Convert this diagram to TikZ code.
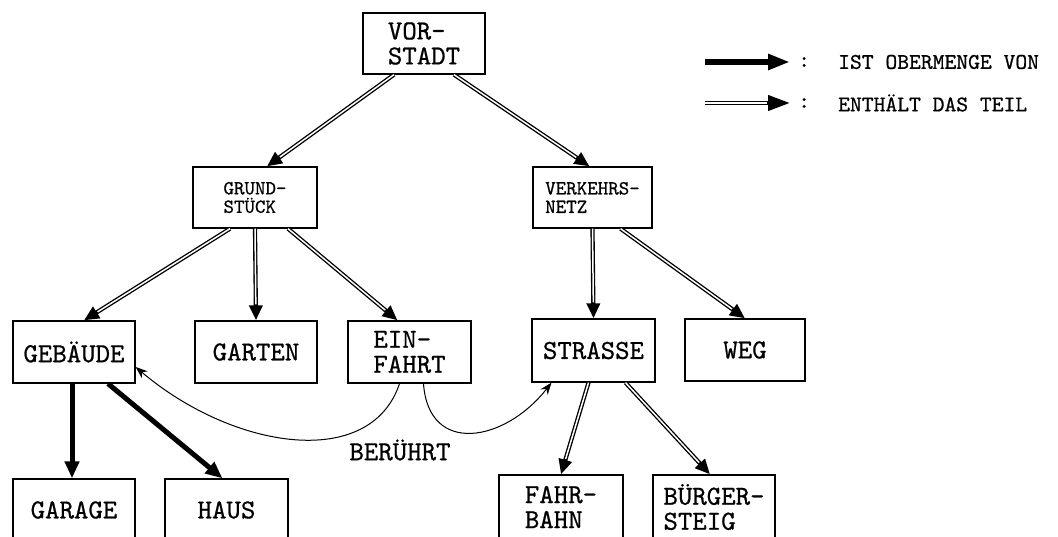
\documentclass[tikz,border=0pt]{standalone}
\usepackage{fontspec}
\setmonofont{lmmono10-regular.otf}[FakeBold=0.7]
\usetikzlibrary{arrows.meta}
\begin{document}
\begin{tikzpicture}[x=1pt,y=-1pt,
  box/.style={draw, line width=1.3pt, inner sep=0pt, align=left,
    font=\ttfamily\fontsize{27.5}{25}\selectfont},
  smallbox/.style={box, font=\ttfamily\fontsize{20}{18.5}\selectfont},
  thickarr/.style={line width=5pt, -{Triangle[length=17pt,width=14pt]}},
  dblarr/.style={line width=4.2pt, -{Triangle[length=15pt,width=13pt]},
    postaction={draw=white, line width=1.5pt, -, shorten >=16pt}},
  touch/.style={line width=1pt, -{Stealth[length=12pt,width=9pt]}},
  legtext/.style={anchor=west, inner sep=0pt, font=\ttfamily\fontsize{22.5}{20}\selectfont},
  lbl/.style={inner sep=0pt, font=\ttfamily\fontsize{27.5}{25}\selectfont}
]
\useasboundingbox (0,0) rectangle (1058,537);

% nodes
\node[box, minimum width=122pt, minimum height=61pt] (vor) at (424,43.5) {VOR-\\STADT};
\node[smallbox, minimum width=124pt, minimum height=61pt] (grund) at (255,197.5) {GRUND-\\STÜCK};
\node[smallbox, minimum width=119pt, minimum height=61pt] (verk) at (592.5,197.5) {VERKEHRS-\\NETZ};
\node[box, minimum width=122pt, minimum height=62pt] (geb) at (74,352) {GEBÄUDE};
\node[box, minimum width=122pt, minimum height=62pt] (garten) at (256,352) {GARTEN};
\node[box, minimum width=123pt, minimum height=62pt] (einf) at (409.5,352) {EIN-\\FAHRT};
\node[box, minimum width=123pt, minimum height=63pt] (str) at (593.5,350.5) {STRASSE};
\node[box, minimum width=120pt, minimum height=62pt] (weg) at (745,350) {WEG};
\node[box, minimum width=124pt, minimum height=64pt] (fahr) at (561,507) {FAHR-\\BAHN};
\node[box, minimum width=122pt, minimum height=64pt] (burg) at (714,507) {BÜRGER-\\STEIG};
\node[box, minimum width=122pt, minimum height=62pt] (garage) at (74,510) {GARAGE};
\node[box, minimum width=123pt, minimum height=62pt] (haus) at (226.5,510) {HAUS};

% tree connectors
\draw[dblarr] ([xshift=-30pt]vor.south) -- ([xshift=12pt]grund.north);
\draw[dblarr] ([xshift=30pt]vor.south) -- ([xshift=-3pt]verk.north);
\draw[dblarr] ([xshift=-25pt]grund.south) -- ([xshift=10pt]geb.north);
\draw[dblarr] (grund.south) -- (garten.north);
\draw[dblarr] ([xshift=33pt]grund.south) -- ([xshift=-12pt]einf.north);
\draw[dblarr] (verk.south) -- (str.north);
\draw[dblarr] ([xshift=28pt]verk.south) -- (weg.north);
\draw[dblarr] ([xshift=-5pt]str.south) -- (fahr.north);
\draw[dblarr] ([xshift=32pt]str.south) -- ([xshift=-4pt]burg.north);
\draw[thickarr] ([xshift=-2pt]geb.south) -- ([xshift=-2pt]garage.north);
\draw[thickarr] ([xshift=34pt]geb.south) -- ([xshift=-4pt]haus.north);

% touches
\draw[touch] ([xshift=-10pt]einf.south) .. controls +(-29,87) and +(98,83) .. ([yshift=-15pt]geb.east);
\draw[touch] ([xshift=14pt]einf.south) .. controls +(5,72) and +(-47,60) .. ([xshift=-42pt]str.south);
\node[lbl] (ber) at (400,450) {BERÜHRT};

% legend
\coordinate (l1s) at (705,62);
\coordinate (l1e) at (790,62);
\coordinate (l2s) at (705,103);
\coordinate (l2e) at (790,103);
\draw[line width=5.5pt, -{Triangle[length=22pt,width=15pt]}] (l1s) -- (l1e);
\draw[line width=4.2pt, -{Triangle[length=22pt,width=15pt]},
  postaction={draw=white, line width=1.5pt, -, shorten >=23pt}] (l2s) -- (l2e);
\node[legtext] (c1) at (798,62) {:};
\node[legtext] (t1) at (838,62) {IST OBERMENGE VON};
\node[legtext] (c2) at (798,103) {:};
\node[legtext] (t2) at (838,103) {ENTHÄLT DAS TEIL};
\end{tikzpicture}
\end{document}
